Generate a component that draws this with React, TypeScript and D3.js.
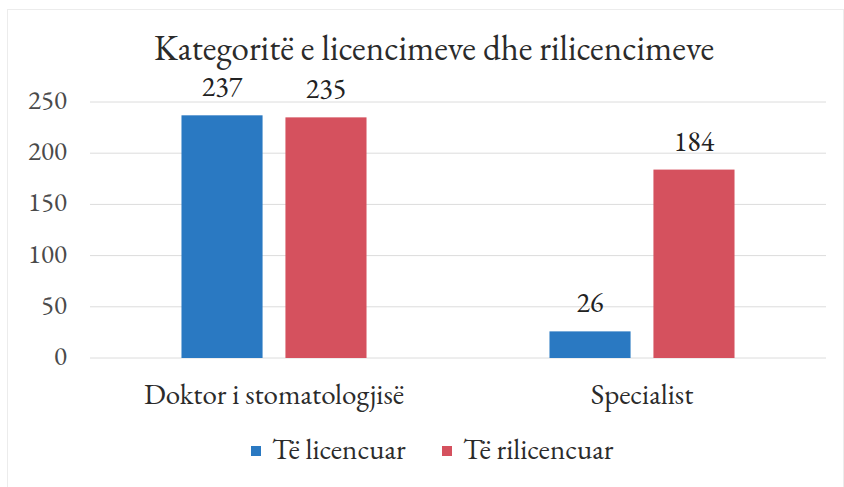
import React from "react";
import * as d3 from "d3";

const categories = ["Doktor i stomatologjisë", "Specialist"];
const seriesNames = ["Të licencuar", "Të rilicencuar"];
const licencuar = [237, 26];
const rilicencuar = [235, 184];
const yTicks = [0, 50, 100, 150, 200, 250];
const title = "Kategoritë e licencimeve dhe rilicencimeve";

const colors = ["#2a79c2", "#d5515e"];
const FONT = `"EB Garamond", "Liberation Serif", serif`;

export default function App() {
  const W = 844, H = 487;
  const left = 90, right = 826, top = 102, bottom = 358;
  const x0 = d3.scaleBand<string>().domain(categories).range([left, right]).padding(0);
  const x1 = d3
    .scaleBand<string>()
    .domain(seriesNames)
    .range([0, x0.bandwidth()])
    .paddingInner(0.22)
    .paddingOuter(0.88);
  const y = d3.scaleLinear().domain([0, 250]).range([bottom, top]);
  const values = [licencuar, rilicencuar];
  const ts = { fontFamily: FONT };
  const legendX = [251, 442];

  return (
    <svg width={W} height={H} style={{ position: "absolute", left: 0, top: 0, background: "#fff" }}>
      <rect x={0} y={0} width={W} height={H} fill="#ffffff" />
      <rect x={7.5} y={9.5} width={W - 8} height={H - 8} fill="none" stroke="#ececec" strokeWidth={1} />
      <text x={434} y={60} textAnchor="middle" fontSize={35} fill="#2b2b2b" style={ts}>
        {title}
      </text>
      {yTicks.map((t) => (
        <g key={t}>
          <line x1={left} x2={right} y1={y(t)} y2={y(t)} stroke="#dcdcdc" strokeWidth={1} />
          <text x={67} y={y(t) + 7} textAnchor="end" fontSize={27} fill="#4a4a4a" style={ts}>
            {t}
          </text>
        </g>
      ))}
      {categories.map((c, ci) => (
        <g key={c}>
          {seriesNames.map((s, si) => {
            const v = values[si][ci];
            const bx = (x0(c) ?? 0) + (x1(s) ?? 0);
            return (
              <g key={s}>
                <rect x={bx} y={y(v)} width={x1.bandwidth()} height={y(0) - y(v)} fill={colors[si]} />
                <text
                  x={bx + x1.bandwidth() / 2}
                  y={y(v) - 19}
                  textAnchor="middle"
                  fontSize={28}
                  fill="#222"
                  style={ts}
                >
                  {v}
                </text>
              </g>
            );
          })}
          <text
            x={(x0(c) ?? 0) + x0.bandwidth() / 2}
            y={404}
            textAnchor="middle"
            fontSize={29}
            fill="#2b2b2b"
            style={ts}
          >
            {c}
          </text>
        </g>
      ))}
      {seriesNames.map((s, si) => {
        const lx = legendX[si];
        return (
          <g key={s}>
            <rect x={lx} y={446} width={10} height={10} fill={colors[si]} />
            <text x={lx + 21} y={459} fontSize={29} fill="#2b2b2b" style={ts}>
              {s}
            </text>
          </g>
        );
      })}
    </svg>
  );
}
